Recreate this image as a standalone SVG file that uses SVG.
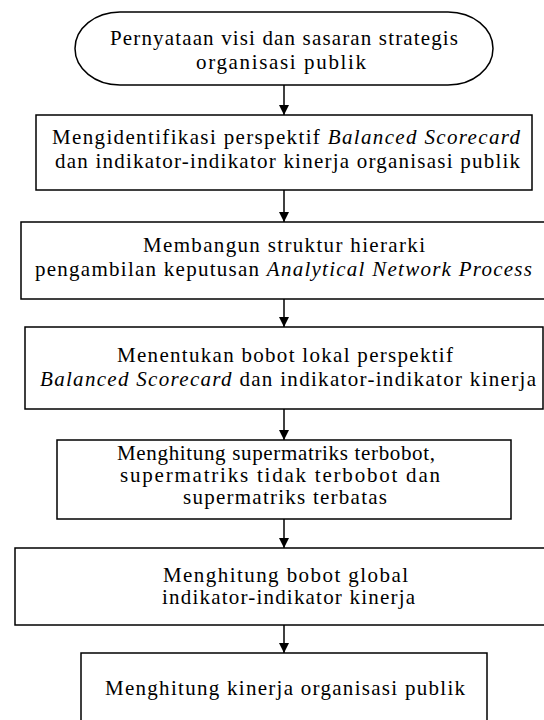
<svg xmlns="http://www.w3.org/2000/svg" width="544" height="720" viewBox="0 0 544 720">
<style>
.box{fill:#fff;stroke:#000;stroke-width:1.5}
.i{font-style:italic}
.c{stroke:#000;stroke-width:1.5;fill:none}
</style>
<defs>
<marker id="ah" viewBox="0 0 10 10" refX="10" refY="5" markerWidth="10" markerHeight="10" markerUnits="userSpaceOnUse" orient="auto">
<path d="M0,0 L10,5 L0,10 Z" fill="#000"/>
</marker>
</defs>
<rect width="544" height="720" fill="#fff"/>
<g id="connectors">
<line class="c" x1="284" y1="85" x2="284" y2="115" marker-end="url(#ah)"/>
<line class="c" x1="284" y1="190" x2="284" y2="222" marker-end="url(#ah)"/>
<line class="c" x1="284" y1="299" x2="284" y2="327" marker-end="url(#ah)"/>
<line class="c" x1="284" y1="409" x2="284" y2="440" marker-end="url(#ah)"/>
<line class="c" x1="284" y1="519" x2="284" y2="548" marker-end="url(#ah)"/>
<line class="c" x1="284" y1="625" x2="284" y2="653" marker-end="url(#ah)"/>
</g>
<g font-family="Liberation Serif" font-size="21" fill="#000">
<g id="n1">
<rect class="box" x="75" y="12" width="418" height="73" rx="45" ry="36.5"/>
<text x="110" y="45" textLength="348">Pernyataan visi dan sasaran strategis</text>
<text x="196" y="69" textLength="170">organisasi publik</text>
</g>
<g id="n2">
<rect class="box" x="36" y="115" width="496" height="75"/>
<text x="52" y="144" textLength="468">Mengidentifikasi perspektif <tspan class="i">Balanced Scorecard</tspan></text>
<text x="55" y="168" textLength="465">dan indikator-indikator kinerja organisasi publik</text>
</g>
<g id="n3">
<rect class="box" x="21" y="222" width="540" height="77"/>
<text x="143" y="252" textLength="282">Membangun struktur hierarki</text>
<text x="35" y="276" textLength="497">pengambilan keputusan <tspan class="i">Analytical Network Process</tspan></text>
</g>
<g id="n4">
<rect class="box" x="25" y="327" width="518" height="82"/>
<text x="117" y="362" textLength="336">Menentukan bobot lokal perspektif</text>
<text x="40" y="386" textLength="496"><tspan class="i">Balanced Scorecard</tspan> dan indikator-indikator kinerja</text>
</g>
<g id="n5">
<rect class="box" x="57" y="440" width="454" height="79"/>
<text x="117" y="460" textLength="318">Menghitung supermatriks terbobot,</text>
<text x="120" y="482" textLength="320">supermatriks tidak terbobot dan</text>
<text x="183" y="504" textLength="204">supermatriks terbatas</text>
</g>
<g id="n6">
<rect class="box" x="15" y="548" width="546" height="77"/>
<text x="163" y="582" textLength="245">Menghitung bobot global</text>
<text x="162" y="604" textLength="253">indikator-indikator kinerja</text>
</g>
<g id="n7">
<rect class="box" x="81" y="653" width="406" height="100"/>
<text x="105" y="695" textLength="360">Menghitung kinerja organisasi publik</text>
</g>
</g>
</svg>
